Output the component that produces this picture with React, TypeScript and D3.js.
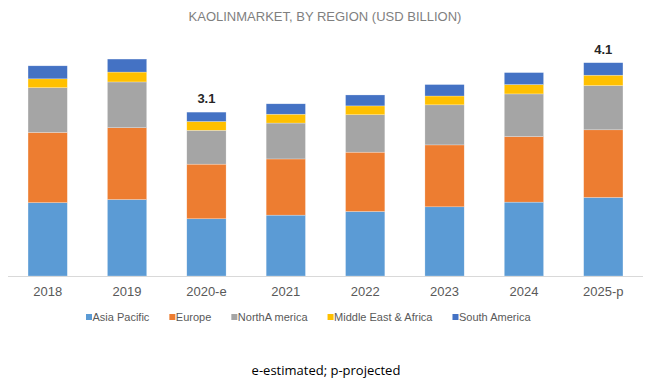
import React, { useEffect, useRef } from "react";
import * as d3 from "d3";

const years = ["2018", "2019", "2020-e", "2021", "2022", "2023", "2024", "2025-p"];
const seriesNames = ["Asia Pacific", "Europe", "NorthA merica", "Middle East & Africa", "South America"];
const seriesColors = ["#5B9BD5", "#ED7D31", "#A5A5A5", "#FFC000", "#4472C4"];
const asiaPacific = [1.41, 1.47, 1.1, 1.17, 1.24, 1.33, 1.42, 1.51];
const europe = [1.35, 1.38, 1.05, 1.08, 1.14, 1.19, 1.26, 1.3];
const northAmerica = [0.86, 0.88, 0.65, 0.69, 0.72, 0.77, 0.82, 0.85];
const middleEastAfrica = [0.17, 0.19, 0.17, 0.17, 0.17, 0.17, 0.18, 0.2];
const southAmerica = [0.25, 0.25, 0.18, 0.2, 0.21, 0.22, 0.23, 0.24];
const totalLabels: { [k: string]: string } = { "2020-e": "3.1", "2025-p": "4.1" };
const titleText = "KAOLINMARKET, BY REGION (USD BILLION)";
const footnote = "e-estimated; p-projected";

export default function App() {
  const ref = useRef<SVGSVGElement>(null);
  useEffect(() => {
    const svg = d3.select(ref.current);
    svg.selectAll("*").remove();
    const W = 650, H = 383;
    const baseY = 276;
    const keys = ["ap", "eu", "na", "mea", "sa"];
    const rows = years.map((y, i) => ({
      year: y,
      ap: asiaPacific[i],
      eu: europe[i],
      na: northAmerica[i],
      mea: middleEastAfrica[i],
      sa: southAmerica[i],
    }));
    const stack = d3.stack<any>().keys(keys)(rows);
    const x = d3.scaleBand<string>().domain(years).range([8, 643]).paddingInner(0.505).paddingOuter(0.2525);
    const y = d3.scaleLinear().domain([0, 4.1]).range([baseY, 62.7]);

    svg.append("text")
      .attr("x", W / 2).attr("y", 21)
      .attr("text-anchor", "middle")
      .attr("font-family", "Liberation Sans, Arial, sans-serif")
      .attr("font-size", 13)
      .attr("fill", "#7F7F7F")
      .text(titleText);

    stack.forEach((s, si) => {
      svg.append("g").selectAll("rect").data(s).join("rect")
        .attr("x", (d: any) => x(d.data.year)!)
        .attr("width", x.bandwidth())
        .attr("y", (d: any) => y(d[1]))
        .attr("height", (d: any) => y(d[0]) - y(d[1]))
        .attr("fill", seriesColors[si])
        .attr("stroke", "#ffffff")
        .attr("stroke-opacity", 0.5)
        .attr("stroke-width", 0.5);
    });

    svg.append("line")
      .attr("x1", 8).attr("x2", 643)
      .attr("y1", baseY + 0.5).attr("y2", baseY + 0.5)
      .attr("stroke", "#D9D9D9").attr("stroke-width", 1);

    svg.append("g").selectAll("text").data(years).join("text")
      .attr("x", (d) => x(d)! + x.bandwidth() / 2)
      .attr("y", 296)
      .attr("text-anchor", "middle")
      .attr("font-family", "Liberation Sans, Arial, sans-serif")
      .attr("font-size", 13)
      .attr("fill", "#595959")
      .text((d) => d);

    const top = stack[stack.length - 1];
    svg.append("g").selectAll("text").data(top.filter((d: any) => totalLabels[d.data.year])).join("text")
      .attr("x", (d: any) => x(d.data.year)! + x.bandwidth() / 2)
      .attr("y", (d: any) => y(d[1]) - 9)
      .attr("text-anchor", "middle")
      .attr("font-family", "Liberation Sans, Arial, sans-serif")
      .attr("font-size", 13)
      .attr("font-weight", "bold")
      .attr("fill", "#262626")
      .text((d: any) => totalLabels[d.data.year]);

    const lg = svg.append("g");
    let lx = 86;
    seriesNames.forEach((n, i) => {
      lg.append("rect").attr("x", lx).attr("y", 314).attr("width", 6).attr("height", 6).attr("fill", seriesColors[i]);
      const t = lg.append("text")
        .attr("x", lx + 6.5).attr("y", 321)
        .attr("font-family", "Liberation Sans, Arial, sans-serif")
        .attr("font-size", 11)
        .attr("fill", "#595959")
        .text(n);
      const len = (t.node() as SVGTextElement).getComputedTextLength();
      lx += 6.5 + len + 20;
    });

    svg.append("text")
      .attr("x", 326).attr("y", 375)
      .attr("text-anchor", "middle")
      .attr("font-family", "Open Sans, Liberation Sans, sans-serif")
      .attr("font-size", 13)
      .attr("fill", "#000000")
      .text(footnote);
  }, []);
  return (
    <svg ref={ref} width={650} height={383} style={{ position: "absolute", left: 0, top: 0, background: "#fff" }} />
  );
}
